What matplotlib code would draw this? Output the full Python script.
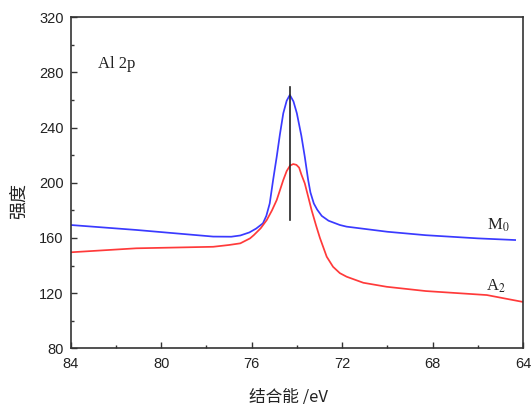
import numpy as np
import matplotlib.pyplot as plt
from matplotlib.ticker import MultipleLocator

plt.rcParams['font.family'] = ['Liberation Sans', 'Noto Sans CJK SC']
plt.rcParams['mathtext.fontset'] = 'stix'

# M0 (blue)
x_m0 = [84, 81.1, 77.7, 76.9, 76.5, 76.1, 75.8, 75.5, 75.35, 75.2, 75.05, 74.97, 74.89, 74.75, 74.6,
        74.45, 74.31, 74.15, 74.0, 73.8, 73.65, 73.5, 73.4, 73.25, 73.1, 72.9, 72.6, 72.1,
        71.8, 70.0, 68.3, 66.0, 64.35]
y_m0 = [169.4, 165.8, 161.0, 160.9, 161.8, 164.0, 166.8, 170.6, 176.0, 185.0, 202.0, 210.5, 218.9, 235.0, 250.4,
        259.5, 263.7, 259.0, 250.4, 234.0, 218.9, 202.0, 193.0, 185.0, 180.5, 176.0, 172.5, 169.4,
        168.2, 164.5, 162.0, 159.7, 158.5]

# A2 (red)
x_a2 = [84, 81.1, 77.7, 77.0, 76.5, 76.07, 75.9, 75.6, 75.33, 75.1, 74.89, 74.6, 74.45, 74.3,
        74.16, 74.02, 73.9, 73.8, 73.65, 73.5, 73.35, 73.15, 72.98, 72.68, 72.4, 72.1, 71.8,
        71.06, 70.03, 68.3, 65.6, 64.0]
y_a2 = [149.6, 152.5, 153.6, 154.9, 156.1, 159.7, 162.1, 167.0, 173.0, 180.0, 187.5, 202.0, 208.5, 212.5,
        213.6, 213.0, 211.0, 206.0, 199.6, 190.0, 180.3, 169.0, 160.0, 146.4, 139.1, 134.5, 131.9,
        127.5, 124.6, 121.5, 118.6, 113.6]

peak_x = 74.31
peak_span = (173, 269.7)

fig = plt.figure(figsize=(5.31, 4.04), dpi=100)
ax = fig.add_axes([0.1331, 0.1379, 0.8519, 0.8193])

ax.plot(x_m0, y_m0, color='#3a3aff', lw=1.25)
ax.plot(x_a2, y_a2, color='#ff3a3a', lw=1.25)
ax.plot([peak_x, peak_x], peak_span, color='#222222', lw=1.2)

ax.set_xlim(84, 64)
ax.set_ylim(80, 320)
ax.xaxis.set_major_locator(MultipleLocator(4))
ax.xaxis.set_minor_locator(MultipleLocator(2))
ax.yaxis.set_major_locator(MultipleLocator(40))
ax.yaxis.set_minor_locator(MultipleLocator(20))
ax.tick_params(which='both', direction='in', top=False, right=False,
               labelsize=10.5, colors='#333333', labelcolor='#222222')
ax.tick_params(which='major', length=4, width=1)
ax.tick_params(which='minor', length=2.5, width=1)
ax.tick_params(axis='x', pad=6)
ax.tick_params(axis='y', pad=5)
for s in ax.spines.values():
    s.set_color('#333333')
    s.set_linewidth(1.2)

ax.text(0.06, 0.86, 'Al 2p', transform=ax.transAxes, fontsize=12,
        family='Liberation Serif', va='center', ha='left', color='#222222')
ax.text(65.6, 165.8, r'M$_0$', fontsize=12, family='Liberation Serif',
        va='baseline', ha='left', color='#222222')
ax.text(65.65, 121.7, r'A$_2$', fontsize=12, family='Liberation Serif',
        va='baseline', ha='left', color='#222222')

ax.set_xlabel('结合能 /eV', fontsize=12, color='#222222',
              family=['Noto Sans CJK SC', 'DejaVu Sans'])
ax.xaxis.set_label_coords(0.482, -0.12)
ax.set_ylabel('强度', fontsize=13, color='#222222',
              family=['Noto Sans CJK SC', 'DejaVu Sans'])
ax.yaxis.set_label_coords(-0.094, 0.445)

fig.savefig('out.png', dpi=100)
